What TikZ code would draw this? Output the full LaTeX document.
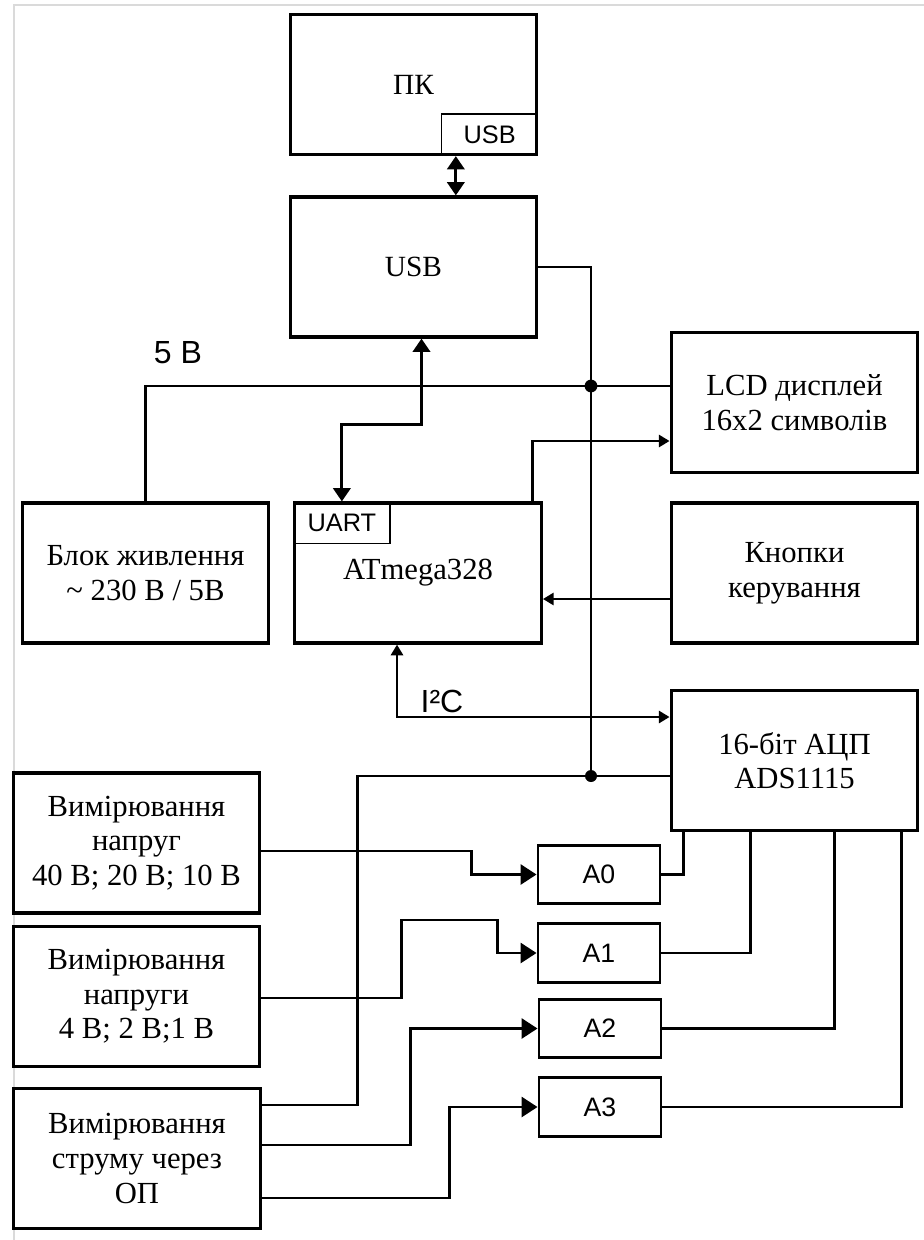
\documentclass[tikz,border=0pt]{standalone}
\usepackage{fontspec}
\setmainfont{Liberation Serif}
\setsansfont{Liberation Sans}
\usetikzlibrary{positioning,arrows.meta,calc}
\definecolor{frameline}{HTML}{DADADA}
\tikzset{
  blok/.style={draw, line width=2.4pt, minimum width=185pt, minimum height=105pt,
    align=center, inner sep=2pt, font=\fontsize{23}{26}\selectfont},
  chan/.style={draw, line width=2.2pt, minimum width=91.5pt, minimum height=44pt,
    font=\sffamily\fontsize{20}{22}\selectfont},
  port/.style={draw, line width=1.2pt, inner sep=0pt, minimum width=72pt,
    minimum height=31pt, font=\sffamily\fontsize{19}{21}\selectfont},
  lbl/.style={font=\sffamily\fontsize{24}{26}\selectfont},
  wire/.style={line width=2.2pt},
  sig/.style={wire, -{Triangle[length=8pt,width=9pt]}},
  insig/.style={wire, -{Triangle[length=12pt,width=15pt]}},
  dbl/.style={wire, {Triangle[length=10pt,width=13pt]}-{Triangle[length=10pt,width=13pt]}},
  dblsmall/.style={wire, {Triangle[length=8pt,width=9pt]}-{Triangle[length=8pt,width=9pt]}},
}

\begin{document}
\begin{tikzpicture}[x=0.75pt, y=-0.75pt]
  \useasboundingbox (0,0) rectangle (924,1240);
  \draw[frameline, line width=1.2pt] (14,1240) -- (14,5) -- (924,5);

  % upper blocks
  \node[blok, font=\fontsize{22}{24}\selectfont] (pc) at (413.5,84.5) {ПК};
  \node[port, anchor=south east] (pcusb) at (pc.south east) {USB};
  \node[blok, font=\fontsize{22}{24}\selectfont] (usb) at (413.5,267) {USB};
  \node[blok] (lcd) at (794.5,402.5) {LCD дисплей\\16x2 символів};
  \node[blok] (psu) at (145.5,573) {Блок живлення\\\textasciitilde{} 230 В / 5В};
  \node[blok] (mcu) at (418,573) {ATmega328};
  \node[port, anchor=north west] (uart) at (mcu.north west) {UART};
  \node[blok] (keys) at (794.5,573) {Кнопки\\керування};
  \node[blok] (adc) at (794.5,760.5) {16-біт АЦП\\ADS1115};

  % measuring blocks
  \node[blok] (meas1) at (136.5,843) {Вимірювання\\напруг\\40 В; 20 В; 10 В};
  \node[blok] (meas2) at (136.5,996.5) {Вимірювання\\напруги\\4 В; 2 В;1 В};
  \node[blok] (meas3) at (137,1158.5) {Вимірювання\\струму через\\ОП};

  % adc channels
  \node[chan] (a0) at (599,874.5) {A0};
  \node[chan] (a1) at (599,953) {A1};
  \node[chan] (a2) at (600,1028.5) {A2};
  \node[chan] (a3) at (600,1107) {A3};

  \coordinate (pcport) at ($(pcusb.south west)+(15,0)$);
  \coordinate (j1) at (591,386);
  \coordinate (j2) at (591,776);

  \node[lbl] (v5) at (178,353) {5 В};
  \node[lbl] (i2c) at (442,701) {I²C};

  \draw[dbl] (pcport) -- (pcport |- usb.north);
  \draw[wire] (usb.east) -| (j1) -- (j2);
  \draw[wire] (psu.north) |- (j1) -- (j1 -| lcd.west);
  \fill (j1) circle (4.8pt);
  \draw[dbl] ($(usb.south)+(8,0)$) -- ++(0,86) -| (uart.north);
  \draw[sig] ($(mcu.north east)+(-10,0)$) |- ($(lcd.west)+(0,38.5)$);
  \draw[sig] ($(keys.west)+(0,26)$) -- ($(mcu.east)+(0,26)$);
  \draw[dblsmall] ($(mcu.south)+(-21,0)$) |- ($(adc.west)+(0,-43.5)$);

  \draw[wire] ($(meas3.east)+(0,-53.5)$) -- ++(96,0) |- (j2) -- (j2 -| adc.west);
  \fill (j2) circle (4.5pt);

  \draw[insig] ($(meas1.east)+(0,8)$) -- ++(210,0) |- (a0.west);
  \draw[insig] ($(meas2.east)+(0,1.5)$) -- ++(140,0) |- ($(a1.west)+(-39,-33)$) |- (a1.west);
  \draw[insig] ($(meas3.east)+(0,-13.5)$) -| ($(a2.west)+(-127,0)$) -- (a2.west);
  \draw[insig] ($(meas3.east)+(0,39.5)$) -| ($(a3.west)+(-88,0)$) -- (a3.west);

  \draw[wire] (a0.east) -| ($(adc.south west)+(14,0)$);
  \draw[wire] (a1.east) -| ($(adc.south west)+(81,0)$);
  \draw[wire] (a2.east) -| ($(adc.south west)+(165,0)$);
  \draw[wire] (a3.east) -| ($(adc.south west)+(232,0)$);
\end{tikzpicture}
\end{document}
